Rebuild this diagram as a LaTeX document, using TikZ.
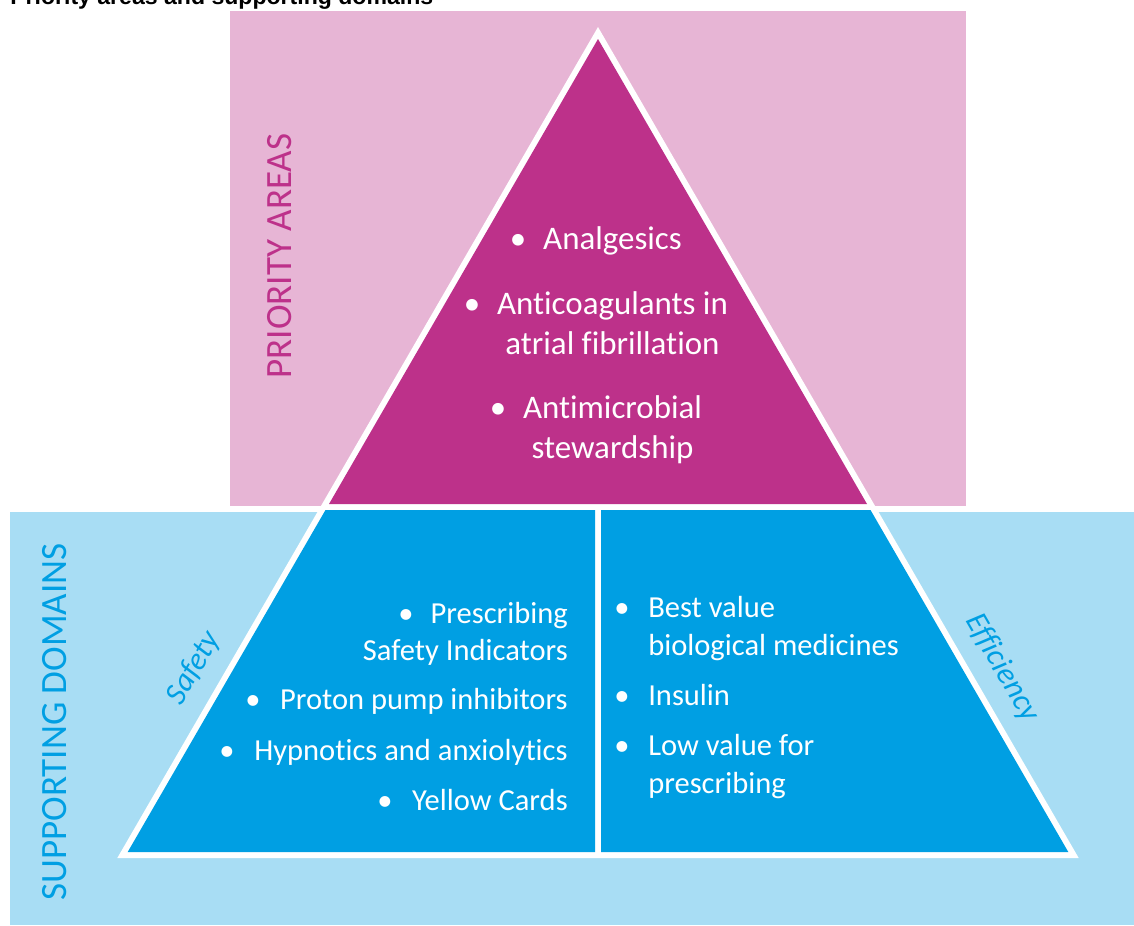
\documentclass[tikz,border=0pt]{standalone}
\usepackage{fontspec}
\setmainfont{Carlito}[Ligatures=NoCommon]
\newfontfamily\titlefont{Liberation Sans}
\definecolor{pinkbg}{HTML}{E7B5D5}
\definecolor{magenta}{HTML}{BD318A}
\definecolor{lightblue}{HTML}{A8DDF4}
\definecolor{midblue}{HTML}{009FE3}
\tikzset{
  big/.style={text=white, inner sep=0pt, font=\fontsize{24.7}{30}\selectfont},
  small/.style={text=white, inner sep=0pt, font=\fontsize{22.9}{27.8}\selectfont},
  sidelabel/.style={inner sep=0pt, font=\fontsize{27.8}{33}\selectfont},
  domlabel/.style={inner sep=0pt, text=midblue, font=\fontsize{23.5}{28}\selectfont\itshape},
}
\begin{document}
\begin{tikzpicture}[x=0.75pt,y=-0.75pt]
\useasboundingbox (0,0) rectangle (1134,925);
\clip (0,0) rectangle (1134,925);
% backgrounds
\fill[pinkbg] (230,11) rectangle (966,506);
\fill[lightblue] (10,512) rectangle (1134,925);
% outer white triangle
\fill[white] (598,27) -- (1078.7,858) -- (117.3,858) -- cycle;
% inner shapes
\fill[magenta] (598,39) -- (867,504) -- (329,504) -- cycle;
\fill[midblue] (325.5,510) -- (595,510) -- (595,852) -- (127.7,852) -- cycle;
\fill[midblue] (601,510) -- (870.5,510) -- (1068.3,852) -- (601,852) -- cycle;
% title
\node[anchor=base west, inner sep=0pt, font=\titlefont\bfseries\fontsize{17.3}{20}\selectfont] (title) at (10,4) {Priority areas and supporting domains};
% side labels
\node[sidelabel, text=magenta, rotate=90] (prio) at (280,256) {PRIORITY AREAS};
\node[sidelabel, text=midblue, rotate=90] (supp) at (55,722) {SUPPORTING DOMAINS};
\node[domlabel, rotate=60] (safety) at (194,668) {Safety};
\node[domlabel, rotate=-60] (eff) at (1002,668) {Efficiency};
% priority items
\node[big, anchor=base] (p1) at (612.5,249) {Analgesics};
\node[big, anchor=base] (b1) at (518,249) {•};
\node[big, anchor=base] (p2a) at (612.5,314) {Anticoagulants in};
\node[big, anchor=base] (p2b) at (612.5,354) {atrial fibrillation};
\node[big, anchor=base] (b2) at (472,314) {•};
\node[big, anchor=base] (p3a) at (612.5,418) {Antimicrobial};
\node[big, anchor=base] (p3b) at (612.5,458) {stewardship};
\node[big, anchor=base] (b3) at (498,418) {•};
% safety items
\node[small, anchor=base east] (s1a) at (568,623) {Prescribing};
\node[small, anchor=base east] (s1b) at (568,660) {Safety Indicators};
\node[small, anchor=base] (sb1) at (406,623) {•};
\node[small, anchor=base east] (s2) at (568,709) {Proton pump inhibitors};
\node[small, anchor=base] (sb2) at (253,709) {•};
\node[small, anchor=base east] (s3) at (568,760) {Hypnotics and anxiolytics};
\node[small, anchor=base] (sb3) at (227,760) {•};
\node[small, anchor=base east] (s4) at (568,810) {Yellow Cards};
\node[small, anchor=base] (sb4) at (385,810) {•};
% efficiency items
\node[small, anchor=base west] (e1a) at (648,617) {Best value};
\node[small, anchor=base west] (e1b) at (648,655) {biological medicines};
\node[small, anchor=base] (eb1) at (622,617) {•};
\node[small, anchor=base west] (e2) at (648,705) {Insulin};
\node[small, anchor=base] (eb2) at (622,705) {•};
\node[small, anchor=base west] (e3a) at (648,755) {Low value for};
\node[small, anchor=base west] (e3b) at (648,793) {prescribing};
\node[small, anchor=base] (eb3) at (622,755) {•};
\end{tikzpicture}
\end{document}
